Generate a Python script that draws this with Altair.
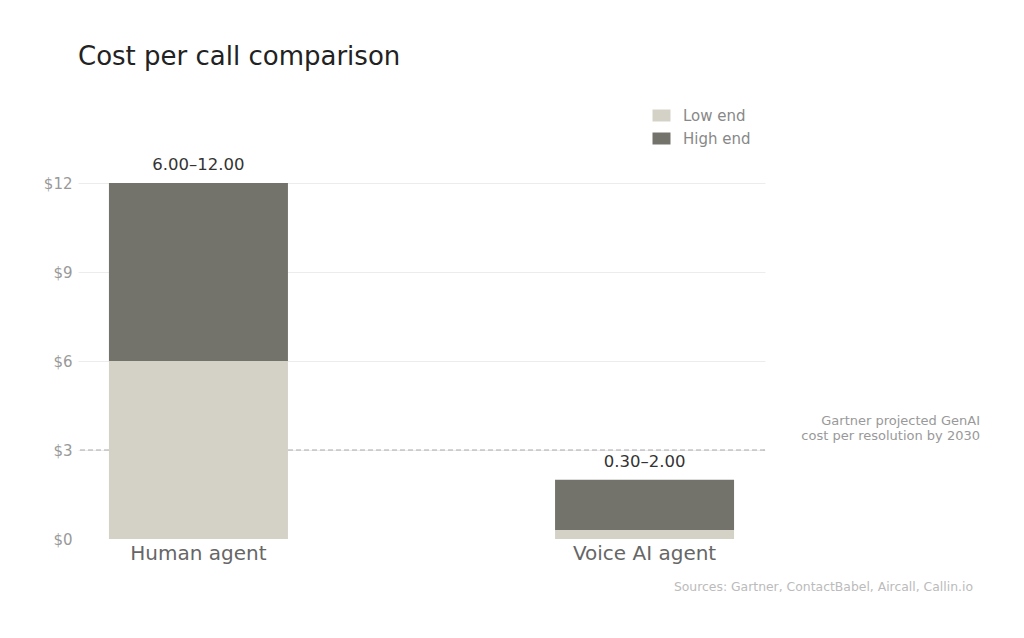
import altair as alt
import pandas as pd

categories = ["Human agent", "Voice AI agent"]
low_values = [6.00, 0.30]
high_values = [12.00, 2.00]
segment_names = ["Low end", "High end"]
segment_colors = ["#d4d2c7", "#74736b"]
y_ticks = [0, 3, 6, 9, 12]
reference_value = 3
reference_note = ["Gartner projected GenAI", "cost per resolution by 2030"]
source_note = "Sources: Gartner, ContactBabel, Aircall, Callin.io"

rows = []
for c, lo, hi in zip(categories, low_values, high_values):
    rows.append({"category": c, "segment": "Low end", "start": 0.0, "end": lo})
    rows.append({"category": c, "segment": "High end", "start": lo, "end": hi})
seg_df = pd.DataFrame(rows)

lab_df = pd.DataFrame({
    "category": categories,
    "high": high_values,
    "label": [f"{lo:.2f}\u2013{hi:.2f}" for lo, hi in zip(low_values, high_values)],
})

FONT = "DejaVu Sans"

xscale = alt.Scale(domain=categories, paddingInner=0.6, paddingOuter=0.07)
yscale = alt.Scale(domain=[0, 12], nice=False)

x_axis = alt.Axis(title=None, labelAngle=0, labelFontSize=20, labelColor="#666666",
                  labelFont=FONT, ticks=False, domain=False, labelPadding=4, grid=False)
y_axis = alt.Axis(title=None, values=y_ticks, labelExpr="'$' + datum.value",
                  labelFontSize=15, labelColor="#999999", labelFont=FONT,
                  ticks=False, domain=False, grid=True,
                  gridColor={"condition": {"test": "datum.value === 0", "value": "transparent"},
                             "value": "#ececec"},
                  gridWidth=1, labelPadding=6)

rule = alt.Chart(pd.DataFrame({"v": [reference_value]})).mark_rule(
    color="#aaaaaa", strokeDash=[5, 3], strokeWidth=1.2
).encode(y=alt.Y("v:Q", scale=yscale, axis=y_axis))

bars = alt.Chart(seg_df).mark_bar(size=179).encode(
    x=alt.X("category:N", scale=xscale, sort=categories, axis=x_axis),
    y=alt.Y("start:Q", scale=yscale, axis=y_axis),
    y2="end:Q",
    color=alt.Color("segment:N",
                    scale=alt.Scale(domain=segment_names, range=segment_colors),
                    legend=alt.Legend(title=None, orient="none", legendX=576, legendY=-75,
                                      labelFontSize=15, labelColor="#888888", labelFont=FONT,
                                      symbolType="M-1.5,-1L1.5,-1L1.5,1L-1.5,1Z",
                                      symbolSize=144, symbolStrokeWidth=0, rowPadding=7,
                                      labelOffset=14, symbolOpacity=1)),
    order=alt.Order("start:Q"),
)

labels = alt.Chart(lab_df).mark_text(
    fontSize=16.5, color="#333333", font=FONT, dy=-18, baseline="middle"
).encode(x=alt.X("category:N", scale=xscale, sort=categories, axis=x_axis),
         y=alt.Y("high:Q", scale=yscale, axis=y_axis),
         text="label:N")

note = alt.Chart(pd.DataFrame({"v": [reference_value], "t": [reference_note]})).mark_text(
    fontSize=13, color="#999999", font=FONT, align="right", baseline="bottom", dy=-22,
    lineHeight=15
).encode(x=alt.value(902), y=alt.Y("v:Q", scale=yscale, axis=y_axis), text="t")

src = alt.Chart(pd.DataFrame({"t": [source_note]})).mark_text(
    fontSize=12.4, color="#bbbbbb", font=FONT, align="right", baseline="middle"
).encode(x=alt.value(895), y=alt.value(404), text="t:N")

chart = alt.layer(rule, bars, labels, note, src).properties(
    width=687, height=356,
    background="white",
    title=alt.TitleParams("Cost per call comparison", anchor="start", frame="group",
                          fontSize=26, font=FONT, fontWeight="normal", color="#222222",
                          offset=38),
    autosize=alt.AutoSizeParams(type="none"),
    padding={"left": 70, "top": 175, "right": 240, "bottom": 80},
).configure_view(strokeWidth=0, stroke=None)

chart.save("out.html", embed_options={"renderer": "svg", "actions": False})
